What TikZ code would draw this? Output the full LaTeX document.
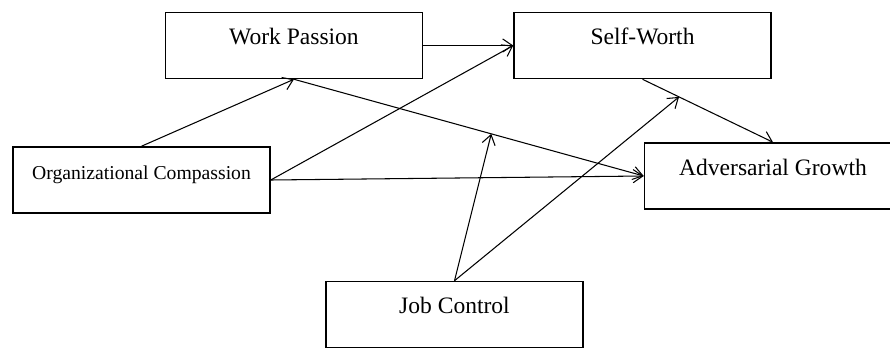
\documentclass[tikz,border=0pt]{standalone}
\usepackage{fontspec}
\setmainfont{Liberation Serif}
\usetikzlibrary{positioning, calc, arrows.meta}

\begin{document}
\begin{tikzpicture}[x=0.02cm, y=0.02cm, node distance=1.8cm,
		varbox/.style={draw, line width=0.9pt, inner sep=0pt, minimum width=5.14cm,
			text height=0.64cm, text depth=0.68cm, font=\fontsize{13.4}{16}\selectfont},
		link/.style={-{Straight Barb[length=5.5pt, width=7.5pt]}, line width=0.6pt}]
			\useasboundingbox (0,0) rectangle (890,349);
			\node[varbox, font=\fontsize{11.2}{14}\selectfont] (oc) at (141.5,169) {Organizational Compassion};
			\node[varbox] (wp) at (294,303.5) {Work Passion};
			\node[varbox, right=of wp] (sw) {Self-Worth};
			\node[varbox] (ag) at (773,173) {Adversarial Growth};
			\node[varbox] (jc) at (454.5,34.5) {Job Control};
			\coordinate (m1) at ($(wp.south)!0.564!(ag.west)$);
			\coordinate (m2) at ($(sw.south)!0.28!(ag.north)$);
			\foreach \from/\to in {oc.north/wp.south, wp.east/sw.west, oc.east/sw.west, oc.east/ag.west, wp.south/ag.west, sw.south/ag.north, jc.north/m1, jc.north/m2}
				\draw[link] (\from) -- (\to);
		\end{tikzpicture}
\end{document}
